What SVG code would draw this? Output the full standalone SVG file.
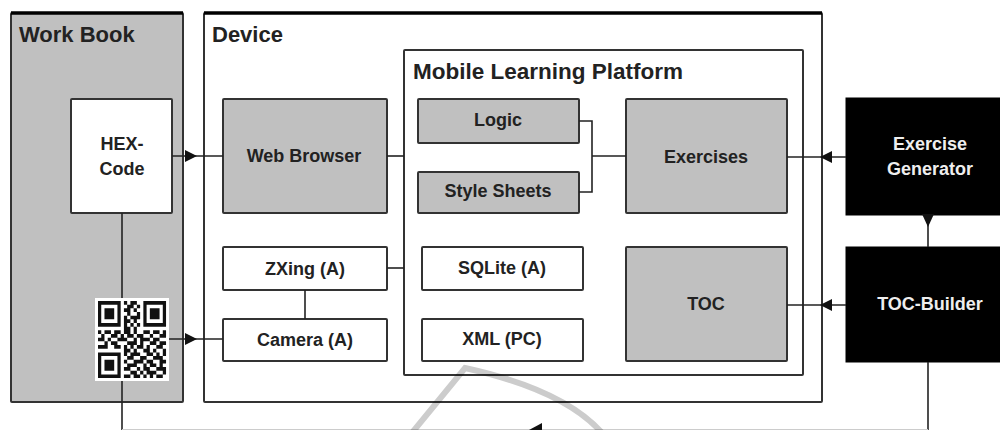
<svg xmlns="http://www.w3.org/2000/svg" width="1000" height="430" viewBox="0 0 1000 430">
<defs>
<style>
.box{stroke:#333;stroke-width:2}
.grey{fill:#c0c0c0}
.white{fill:#fff}
.black{fill:#000;stroke:#000}
.t{font-family:"Liberation Sans",Arial,sans-serif;font-weight:bold;font-size:18px;fill:#222;text-anchor:middle}
.title{font-family:"Liberation Sans",Arial,sans-serif;font-weight:bold;font-size:22px;fill:#222}
.tw{fill:#eee}
.c{fill:none;stroke:#222;stroke-width:1.6}
.ah{fill:#111}
</style>
</defs>
<rect width="1000" height="430" fill="#fff"/>

<g id="workbook">
<rect class="box grey" x="11" y="13" width="172" height="389" rx="1"/>
<line x1="11" y1="13" x2="183" y2="13" stroke="#000" stroke-width="3.5"/>
<text class="title" x="19" y="42">Work Book</text>
</g>

<g id="device">
<rect class="box white" x="204" y="13" width="618" height="389" rx="1"/>
<line x1="204" y1="13" x2="822" y2="13" stroke="#000" stroke-width="3.5"/>
<text class="title" x="212" y="42">Device</text>
</g>

<g id="mlp">
<rect class="box white" x="404" y="50" width="399" height="325" rx="1"/>
<text class="title" x="413" y="79" style="font-size:22.5px">Mobile Learning Platform</text>
</g>

<g id="hexcode">
<rect class="box white" x="71" y="99" width="101" height="114" rx="1"/>
<text class="t" x="122" y="150">HEX-</text>
<text class="t" x="122" y="175">Code</text>
</g>

<g id="webbrowser">
<rect class="box grey" x="223" y="99" width="164" height="114" rx="1"/>
<text class="t" x="304" y="162">Web Browser</text>
</g>

<g id="logic">
<rect class="box grey" x="418" y="99" width="161" height="44" rx="1"/>
<text class="t" x="498" y="126">Logic</text>
</g>

<g id="stylesheets">
<rect class="box grey" x="418" y="172" width="161" height="41" rx="1"/>
<text class="t" x="498" y="197">Style Sheets</text>
</g>

<g id="exercises">
<rect class="box grey" x="626" y="99" width="161" height="114" rx="1"/>
<text class="t" x="706" y="163">Exercises</text>
</g>

<g id="exercisegenerator">
<rect class="black" x="846" y="98" width="160" height="117"/>
<text class="t tw" x="930" y="150">Exercise</text>
<text class="t tw" x="930" y="175">Generator</text>
</g>

<g id="zxing">
<rect class="box white" x="223" y="247" width="164" height="43" rx="1"/>
<text class="t" x="305" y="275">ZXing (A)</text>
</g>

<g id="camera">
<rect class="box white" x="223" y="319" width="164" height="42" rx="1"/>
<text class="t" x="305" y="346">Camera (A)</text>
</g>

<g id="sqlite">
<rect class="box white" x="422" y="247" width="161" height="43" rx="1"/>
<text class="t" x="502" y="274">SQLite (A)</text>
</g>

<g id="xml">
<rect class="box white" x="422" y="319" width="161" height="42" rx="1"/>
<text class="t" x="502" y="345">XML (PC)</text>
</g>

<g id="toc">
<rect class="box grey" x="626" y="247" width="161" height="114" rx="1"/>
<text class="t" x="706" y="310">TOC</text>
</g>

<g id="tocbuilder">
<rect class="black" x="846" y="247" width="160" height="115"/>
<text class="t tw" x="930" y="310">TOC-Builder</text>
</g>

<g id="connectors">
<line class="c" x1="122" y1="213" x2="122" y2="298"/>
<line class="c" x1="122" y1="381" x2="122" y2="431"/>
<line class="c" x1="172" y1="156" x2="223" y2="156"/>
<polygon class="ah" points="197,156 185,150 185,162"/>
<line class="c" x1="387" y1="156" x2="404" y2="156"/>
<path class="c" d="M579 121 H592 V192 H579 M592 156 H626"/>
<line class="c" x1="787" y1="157" x2="846" y2="157"/>
<polygon class="ah" points="820,157 832,151 832,163"/>
<line class="c" x1="928" y1="215" x2="928" y2="247"/>
<polygon class="ah" points="922,214 934,214 928,227"/>
<line class="c" x1="787" y1="305" x2="846" y2="305"/>
<polygon class="ah" points="820,305 832,299 832,311"/>
<line class="c" x1="387" y1="268" x2="404" y2="268"/>
<line class="c" x1="305" y1="290" x2="305" y2="319"/>
<line class="c" x1="169" y1="339" x2="223" y2="339"/>
<polygon class="ah" points="197,339 185,333 185,345"/>
<line class="c" x1="928" y1="362" x2="928" y2="431"/>
<line x1="122" y1="429.5" x2="928" y2="429.5" stroke="#ccc" stroke-width="1"/>
<polygon class="ah" points="529,430 542,423 542,437"/>
</g>

<g id="qrcode">
<rect x="95" y="298" width="74" height="83" fill="#fff"/>
<path transform="translate(98 301) scale(3.24 3.67)" fill="#111" d="
M0 0h7v1h-7z M8 0h1v1h-1z M10 0h2v1h-2z M14 0h7v1h-7z
M0 1h1v1h-1z M6 1h1v1h-1z M9 1h2v1h-2z M12 1h1v1h-1z M14 1h1v1h-1z M20 1h1v1h-1z
M0 2h1v1h-1z M2 2h3v1h-3z M6 2h1v1h-1z M8 2h2v1h-2z M11 2h1v1h-1z M14 2h1v1h-1z M16 2h3v1h-3z M20 2h1v1h-1z
M0 3h1v1h-1z M2 3h3v1h-3z M6 3h1v1h-1z M9 3h1v1h-1z M12 3h1v1h-1z M14 3h1v1h-1z M16 3h3v1h-3z M20 3h1v1h-1z
M0 4h1v1h-1z M2 4h3v1h-3z M6 4h1v1h-1z M8 4h1v1h-1z M10 4h3v1h-3z M14 4h1v1h-1z M16 4h3v1h-3z M20 4h1v1h-1z
M0 5h1v1h-1z M6 5h1v1h-1z M8 5h2v1h-2z M11 5h1v1h-1z M14 5h1v1h-1z M20 5h1v1h-1z
M0 6h7v1h-7z M8 6h1v1h-1z M10 6h1v1h-1z M12 6h1v1h-1z M14 6h7v1h-7z
M8 7h2v1h-2z M11 7h1v1h-1z
M0 8h1v1h-1z M2 8h2v1h-2z M5 8h2v1h-2z M8 8h2v1h-2z M11 8h1v1h-1z M14 8h2v1h-2z M17 8h2v1h-2z M20 8h1v1h-1z
M1 9h1v1h-1z M4 9h2v1h-2z M7 9h1v1h-1z M9 9h2v1h-2z M12 9h2v1h-2z M16 9h1v1h-1z M19 9h2v1h-2z
M0 10h2v1h-2z M3 10h1v1h-1z M6 10h3v1h-3z M11 10h1v1h-1z M13 10h3v1h-3z M17 10h2v1h-2z
M2 11h1v1h-1z M4 11h2v1h-2z M9 11h3v1h-3z M13 11h1v1h-1z M16 11h2v1h-2z M19 11h2v1h-2z
M0 12h3v1h-3z M5 12h2v1h-2z M8 12h1v1h-1z M10 12h1v1h-1z M12 12h2v1h-2z M15 12h1v1h-1z M18 12h2v1h-2z
M8 13h2v1h-2z M11 13h1v1h-1z M14 13h2v1h-2z M17 13h1v1h-1z M20 13h1v1h-1z
M0 14h7v1h-7z M8 14h1v1h-1z M10 14h3v1h-3z M15 14h2v1h-2z M18 14h1v1h-1z M20 14h1v1h-1z
M0 15h1v1h-1z M6 15h1v1h-1z M9 15h2v1h-2z M13 15h2v1h-2z M17 15h3v1h-3z
M0 16h1v1h-1z M2 16h3v1h-3z M6 16h1v1h-1z M8 16h1v1h-1z M11 16h3v1h-3z M15 16h2v1h-2z M19 16h2v1h-2z
M0 17h1v1h-1z M2 17h3v1h-3z M6 17h1v1h-1z M9 17h3v1h-3z M14 17h1v1h-1z M16 17h2v1h-2z M19 17h1v1h-1z
M0 18h1v1h-1z M2 18h3v1h-3z M6 18h1v1h-1z M8 18h2v1h-2z M12 18h1v1h-1z M14 18h2v1h-2z M18 18h3v1h-3z
M0 19h1v1h-1z M6 19h1v1h-1z M10 19h2v1h-2z M13 19h1v1h-1z M15 19h3v1h-3z M20 19h1v1h-1z
M0 20h7v1h-7z M8 20h2v1h-2z M11 20h2v1h-2z M14 20h1v1h-1z M16 20h1v1h-1z M18 20h2v1h-2z"/>
</g>

<path d="M411 434 L465 368 Q565 390 603 434" fill="none" stroke="#000" stroke-opacity="0.2" stroke-width="6"/>
</svg>
